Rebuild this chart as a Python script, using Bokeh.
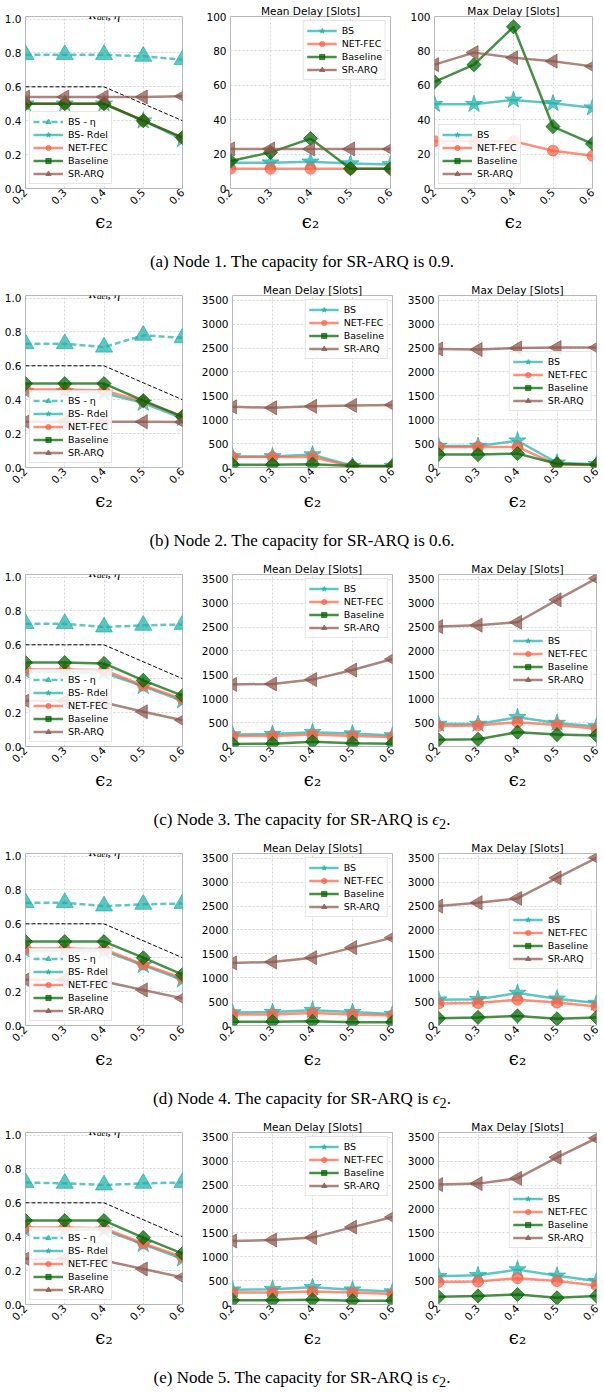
import math
from bokeh.plotting import figure
from bokeh.models import FixedTicker, Legend, LegendItem, Label, Div, Range1d
from bokeh.layouts import column, row
from bokeh.embed import file_html
from bokeh.resources import INLINE

# ---------------- data ----------------
eps2 = [0.2, 0.3, 0.4, 0.5, 0.6]
cap_limit = [0.6, 0.6, 0.6, 0.5, 0.4]

# R_del / eta panels (one list per node)
bs_eta = [
    [0.79, 0.79, 0.79, 0.78, 0.76],
    [0.73, 0.73, 0.71, 0.78, 0.765],
    [0.725, 0.725, 0.705, 0.715, 0.72],
    [0.725, 0.725, 0.705, 0.715, 0.72],
    [0.72, 0.715, 0.705, 0.715, 0.72],
]
bs_rdel = [
    [0.5, 0.5, 0.5, 0.4, 0.29],
    [0.45, 0.45, 0.44, 0.38, 0.29],
    [0.44, 0.44, 0.435, 0.355, 0.27],
    [0.44, 0.44, 0.44, 0.355, 0.27],
    [0.44, 0.44, 0.44, 0.355, 0.27],
]
fec_rdel = [
    [0.5, 0.5, 0.5, 0.4, 0.3],
    [0.46, 0.46, 0.455, 0.39, 0.3],
    [0.455, 0.455, 0.45, 0.36, 0.28],
    [0.455, 0.455, 0.45, 0.36, 0.28],
    [0.455, 0.455, 0.45, 0.36, 0.28],
]
base_rdel = [
    [0.5, 0.5, 0.5, 0.4, 0.3],
    [0.495, 0.495, 0.495, 0.395, 0.3],
    [0.495, 0.495, 0.49, 0.39, 0.3],
    [0.495, 0.495, 0.495, 0.4, 0.3],
    [0.495, 0.495, 0.495, 0.395, 0.3],
]
arq_rdel = [
    [0.54, 0.54, 0.54, 0.54, 0.545],
    [0.27, 0.27, 0.27, 0.27, 0.268],
    [0.27, 0.27, 0.26, 0.205, 0.155],
    [0.27, 0.27, 0.26, 0.21, 0.16],
    [0.27, 0.27, 0.26, 0.21, 0.16],
]

# Mean delay [slots]
bs_mean = [
    [15, 15, 15.5, 14.5, 14],
    [230, 230, 270, 30, 30],
    [250, 260, 300, 270, 230],
    [270, 280, 320, 280, 240],
    [310, 320, 360, 310, 270],
]
fec_mean = [
    [11.5, 11.5, 11.5, 11.5, 11.5],
    [220, 220, 220, 20, 20],
    [220, 220, 250, 220, 200],
    [230, 230, 260, 230, 210],
    [250, 250, 270, 250, 220],
]
base_mean = [
    [16, 21, 29, 11.5, 11.5],
    [60, 60, 70, 30, 30],
    [50, 60, 100, 70, 60],
    [80, 80, 90, 70, 70],
    [90, 90, 100, 80, 80],
]
arq_mean = [
    [23, 23, 23, 23, 23],
    [1270, 1250, 1280, 1300, 1310],
    [1300, 1310, 1400, 1600, 1830],
    [1310, 1330, 1420, 1630, 1840],
    [1330, 1350, 1400, 1620, 1830],
]

# Max delay [slots]
bs_max = [
    [49, 49, 51.5, 49.5, 47],
    [450, 450, 560, 100, 70],
    [470, 470, 610, 490, 420],
    [540, 550, 680, 560, 470],
    [590, 610, 730, 600, 490],
]
fec_max = [
    [27.5, 27.5, 27.5, 22, 19],
    [430, 430, 430, 60, 50],
    [430, 440, 510, 450, 370],
    [460, 470, 540, 480, 400],
    [470, 480, 550, 490, 400],
]
base_max = [
    [62, 72, 94, 36, 26],
    [270, 270, 290, 80, 60],
    [140, 150, 300, 250, 230],
    [150, 170, 200, 140, 170],
    [160, 180, 210, 140, 180],
]
arq_max = [
    [72, 79, 76, 74, 71],
    [2480, 2470, 2500, 2510, 2510],
    [2510, 2540, 2600, 3070, 3520],
    [2500, 2570, 2660, 3090, 3510],
    [2510, 2530, 2640, 3080, 3480],
]

captions = [
    "(a) Node 1. The capacity for SR-ARQ is 0.9.",
    "(b) Node 2. The capacity for SR-ARQ is 0.6.",
    "(c) Node 3. The capacity for SR-ARQ is <i>ϵ</i><sub>2</sub>.",
    "(d) Node 4. The capacity for SR-ARQ is <i>ϵ</i><sub>2</sub>.",
    "(e) Node 5. The capacity for SR-ARQ is <i>ϵ</i><sub>2</sub>.",
]
rate_ticks = [0.0, 0.2, 0.4, 0.6, 0.8, 1.0]
rate_tick_labels = ["0.0", "0.2", "0.4", "0.6", "0.8", "1.0"]
small_ticks = [0, 20, 40, 60, 80, 100]
big_ticks = [0, 500, 1000, 1500, 2000, 2500, 3000, 3500]

# ---------------- style ----------------
C_BS = "#20B2AA"
C_FEC = "#FF6347"
C_BASE = "#006400"
C_ARQ = "#8c564b"
ALPHA = 0.72
FRAME_H = 172
SANS = "DejaVu Sans"


def base_figure(frame_w, left, right, y_end, yticks, title=None):
    p = figure(frame_width=frame_w, frame_height=FRAME_H,
               min_border_left=left, min_border_right=right,
               min_border_top=16, min_border_bottom=58,
               x_range=Range1d(0.2, 0.6), y_range=Range1d(0, y_end),
               output_backend="svg", toolbar_location=None, title=title)
    p.outline_line_color = "#b8b8b8"
    p.outline_line_width = 1
    p.background_fill_color = "white"
    p.border_fill_color = "white"
    for g in (p.xgrid[0], p.ygrid[0]):
        g.grid_line_color = "#d4d4d4"
        g.grid_line_dash = "2 2"
        g.grid_line_width = 1
    p.xaxis.ticker = FixedTicker(ticks=eps2)
    p.yaxis.ticker = FixedTicker(ticks=yticks)
    for ax in (p.xaxis[0], p.yaxis[0]):
        ax.axis_line_color = None
        ax.major_tick_line_color = None
        ax.minor_tick_line_color = None
        ax.major_tick_out = 0
        ax.major_tick_in = 0
        ax.major_label_text_font = SANS
        ax.major_label_text_font_size = "10.5px"
        ax.major_label_text_color = "black"
    p.yaxis.major_label_standoff = 4
    p.xaxis.major_label_standoff = 2
    p.xaxis.major_label_orientation = math.pi / 4
    p.xaxis.axis_label = "ϵ₂"
    p.xaxis.axis_label_text_font = "DejaVu Serif"
    p.xaxis.axis_label_text_font_style = "normal"
    p.xaxis.axis_label_text_font_size = "18px"
    p.xaxis.axis_label_text_color = "black"
    p.xaxis.axis_label_standoff = 0
    if title is not None:
        p.title.align = "center"
        p.title.text_font = SANS
        p.title.text_font_size = "10.5px"
        p.title.text_font_style = "normal"
        p.title.text_color = "black"
        p.title.standoff = 0
    return p


def series(p, y, color, marker, size, angle=0.0, dash="solid"):
    ln = p.line(eps2, y, line_color=color, line_width=2.5, line_alpha=ALPHA,
                line_dash=dash)
    sc = p.scatter(eps2, y, marker=marker, size=size, angle=angle,
                   fill_color=color, fill_alpha=ALPHA, line_color=color,
                   line_alpha=ALPHA)
    return [ln, sc]


def add_legend(p, items, location):
    lg = Legend(items=[LegendItem(label=l, renderers=r) for l, r in items],
                location=location)
    lg.label_text_font = SANS
    lg.label_text_font_size = "9.5px"
    lg.label_text_color = "black"
    lg.glyph_width = 30
    lg.glyph_height = 13
    lg.label_height = 13
    lg.label_standoff = 5
    lg.spacing = 0
    lg.padding = 3
    lg.margin = 4
    lg.border_line_color = "#cccccc"
    lg.background_fill_color = "white"
    lg.background_fill_alpha = 0.85
    p.add_layout(lg)


def title_label(x, y, text, size):
    return Label(x=x, y=y, x_units="screen", y_units="screen", text=text,
                 text_font="Liberation Serif", text_font_style="italic",
                 text_font_size=size, text_baseline="alphabetic",
                 text_color="black")


rows = []
for n in range(5):
    # ---- left: R_del, eta ----
    p1 = base_figure(157, 25, 16, 1.015, rate_ticks)
    p1.yaxis.major_label_overrides = dict(zip(rate_ticks, rate_tick_labels))
    p1.line(eps2, cap_limit, line_color="black", line_width=1, line_dash="4 2")
    r_eta = series(p1, bs_eta[n], C_BS, "triangle", 17, dash="6 3")
    r_bsr = series(p1, bs_rdel[n], C_BS, "star", 18)
    r_fec = series(p1, fec_rdel[n], C_FEC, "circle", 11)
    r_base = series(p1, base_rdel[n], C_BASE, "square", 10, angle=math.pi / 4)
    r_arq = series(p1, arq_rdel[n], C_ARQ, "triangle", 14, angle=math.pi / 2)
    add_legend(p1, [("BS - η", r_eta), ("BS- Rdel", r_bsr), ("NET-FEC", r_fec),
                    ("Baseline", r_base), ("SR-ARQ", r_arq)], "bottom_left")
    p1.add_layout(title_label(63, FRAME_H + 2, "R", "13px"))
    p1.add_layout(title_label(71.5, FRAME_H, "del", "9px"))
    p1.add_layout(title_label(82, FRAME_H + 2, ", η", "13px"))

    big = n > 0
    yend = 3600 if big else 100
    ticks = big_ticks if big else small_ticks

    # ---- middle: mean delay ----
    p2 = base_figure(160, 32, 12, yend, ticks, title="Mean Delay [Slots]")
    m_bs = series(p2, bs_mean[n], C_BS, "star", 18)
    m_fec = series(p2, fec_mean[n], C_FEC, "circle", 11)
    m_base = series(p2, base_mean[n], C_BASE, "square", 10, angle=math.pi / 4)
    m_arq = series(p2, arq_mean[n], C_ARQ, "triangle", 14, angle=math.pi / 2)
    add_legend(p2, [("BS", m_bs), ("NET-FEC", m_fec), ("Baseline", m_base),
                    ("SR-ARQ", m_arq)], "top_right")

    # ---- right: max delay ----
    p3 = base_figure(158, 32, 12, yend, ticks, title="Max Delay [Slots]")
    x_bs = series(p3, bs_max[n], C_BS, "star", 18)
    x_fec = series(p3, fec_max[n], C_FEC, "circle", 11)
    x_base = series(p3, base_max[n], C_BASE, "square", 10, angle=math.pi / 4)
    x_arq = series(p3, arq_max[n], C_ARQ, "triangle", 14, angle=math.pi / 2)
    add_legend(p3, [("BS", x_bs), ("NET-FEC", x_fec), ("Baseline", x_base),
                    ("SR-ARQ", x_arq)], "center_right" if big else "bottom_left")

    cap = Div(width=604, height=33, margin=0,
              text=('<div style="width:604px;text-align:center;'
                    'font-family:\'Liberation Serif\',serif;font-size:17px;'
                    'line-height:19px;margin:0;padding-top:6px;color:black;">'
                    + captions[n] + '</div>'))
    rows.append(row(p1, p2, p3, spacing=0))
    rows.append(cap)

layout = column(*rows, spacing=0)
open("out.html", "w").write(file_html(layout, INLINE))
